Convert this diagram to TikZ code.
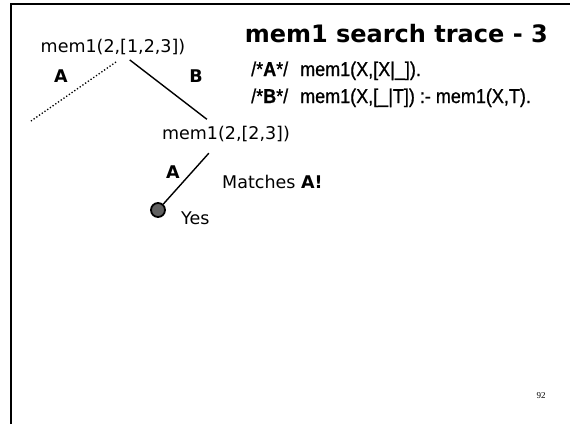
\documentclass[tikz,border=0pt]{standalone}
\usepackage{fontspec}
\setmainfont{DejaVu Sans}
\newfontfamily\codefont[FakeStretch=0.9,FakeBold=0.8]{Liberation Sans}
\newfontfamily\pagefont{Liberation Serif}
\begin{document}
\begin{tikzpicture}[x=1pt,y=-1pt,
  term/.style={inner sep=0pt,font=\fontsize{17.5}{20}\selectfont},
  branch/.style={inner sep=0pt,font=\fontsize{17.5}{20}\selectfont\bfseries},
  code/.style={inner sep=0pt,anchor=base west,font=\fontsize{20}{24}\codefont},
  edge/.style={line width=1.4pt},
  deadend/.style={line width=1.3pt,dotted},
  leafdot/.style={circle,draw,line width=1.8pt,fill=black!62,minimum size=14pt,inner sep=0pt}]
\useasboundingbox (0,0) rectangle (570,424);

% slide frame (left and top edges)
\draw[line width=2.5pt] (11,424) -- (11,4) -- (570,4);

% title and the two clauses
\node[inner sep=0pt,anchor=base east,font=\fontsize{24}{27}\selectfont\bfseries] (title) at (548,42) {mem1 search trace - 3};
\node[code] (clauseA) at (251,76) {/*\textbf{A}*/\hspace{0.6em}mem1(X,[X|\_]).};
\node[code] (clauseB) at (251,103) {/*\textbf{B}*/\hspace{0.6em}mem1(X,[\_|T]) :- mem1(X,T).};

% search tree
\node[term] (top) at (113,47) {mem1(2,[1,2,3])};
\node[term] (mid) at (226,134) {mem1(2,[2,3])};
\node[leafdot] (leaf) at (158,210) {};
\coordinate (dead) at (31,121);

\draw[deadend] (top.south) ++(3,7) -- (dead);
\draw[edge,shorten <=8pt,shorten >=11pt] (top) -- (mid);
\draw[edge,shorten <=15pt] (mid) -- (leaf);

\node[branch] (labA) at (61,76) {A};
\node[branch] (labB) at (196,76) {B};
\node[branch] (labA2) at (173,172) {A};

\node[term,anchor=west] (match) at (222,182) {Matches \textbf{A!}};
\node[term,anchor=west] (yes) at (181,218) {Yes};

\node[inner sep=0pt,font=\fontsize{9}{10}\pagefont] (pageno) at (541,396) {92};
\end{tikzpicture}
\end{document}
